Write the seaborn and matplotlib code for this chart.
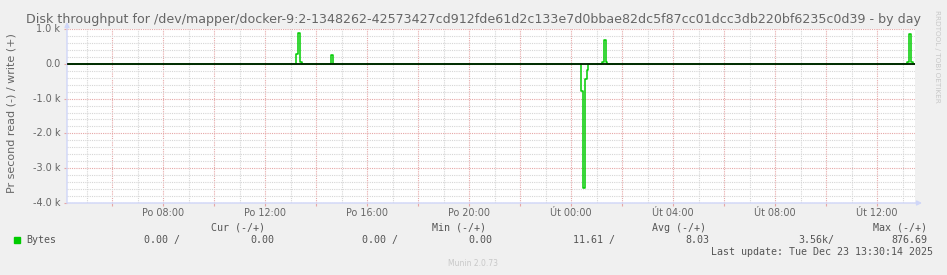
import numpy as np
import pandas as pd
import seaborn as sns
import matplotlib
matplotlib.use("Agg")
import matplotlib.pyplot as plt
from matplotlib.ticker import MultipleLocator

# ---------------- data (hours since Monday 00:00) ----------------
write_times = [4.235, 13.217, 13.300, 13.383, 13.467, 14.600, 14.683,
               25.227, 25.310, 25.390, 25.430, 37.190, 37.267, 37.350, 37.400, 37.490]
write_vals = [0, 280, 876.69, 50, 0, 260, 0,
              50, 690, 50, 0, 50, 860, 50, 0, 0]
read_times = [4.235, 24.380, 24.463, 24.546, 24.630, 24.680, 37.490]
read_vals = [0, 780, 3560, 450, 190, 0, 0]

x_ticks = [8, 12, 16, 20, 24, 28, 32, 36]
x_tick_labels = ["Po 08:00", "Po 12:00", "Po 16:00", "Po 20:00",
                 "Út 00:00", "Út 04:00", "Út 08:00", "Út 12:00"]
y_ticks = [1000, 0, -1000, -2000, -3000, -4000]
y_tick_labels = ["1.0 k", "0.0", "-1.0 k", "-2.0 k", "-3.0 k", "-4.0 k"]

title = ("Disk throughput for /dev/mapper/docker-9:2-1348262-42573427cd912fde61d2c133e7d0bbae82dc5f87cc01dcc3db220bf6235c0d39"
         " - by day")
ylabel = "Pr second read (-) / write (+)"
legend_headers = ["Cur (-/+)", "Min (-/+)", "Avg (-/+)", "Max (-/+)"]
series_name = "Bytes"
read_stats = ["0.00 /", "0.00 /", "11.61 /", "3.56k/"]
write_stats = ["0.00", "0.00", "8.03", "876.69"]
last_update = "Last update: Tue Dec 23 13:30:14 2025"
footer = "Munin 2.0.73"
watermark = "RRDTOOL / TOBI OETIKER"

# ---------------- figure ----------------
W, H = 947, 275
BG = "#F0F0F0"
GREEN = "#00CC00"
FONT = "#666666"
AXISC = "#CFD6F8"

sns.set_style("white")
plt.rcParams["font.family"] = ["DejaVu Sans"]

fig = plt.figure(figsize=(W / 100, H / 100), dpi=100, facecolor=BG)
L, R, T, B = 67, 915, 29, 203
ax = fig.add_axes([L / W, 1 - B / H, (R - L) / W, (B - T) / H])
ax.set_facecolor("white")

x0, x1 = 4.235, 37.49
ax.set_xlim(x0, x1)
ax.set_ylim(-4000, 1000)

# grids
ax.xaxis.set_minor_locator(MultipleLocator(1))
ax.xaxis.set_major_locator(MultipleLocator(2))
ax.yaxis.set_minor_locator(MultipleLocator(200))
ax.yaxis.set_major_locator(MultipleLocator(1000))
ax.grid(which="minor", color="#D6D6D6", linestyle=(0, (1, 1)), linewidth=0.8, zorder=0)
ax.grid(which="major", color="#E6A6A6", linestyle=(0, (1, 1)), linewidth=0.8, zorder=0)
ax.set_axisbelow(True)

# data
wdf = pd.DataFrame({"t": write_times, "v": write_vals})
rdf = pd.DataFrame({"t": read_times, "v": [-v for v in read_vals]})
sns.lineplot(data=wdf, x="t", y="v", ax=ax, color=GREEN, lw=1.1,
             drawstyle="steps-post", zorder=3, estimator=None, sort=False)
sns.lineplot(data=rdf, x="t", y="v", ax=ax, color=GREEN, lw=1.1,
             drawstyle="steps-post", zorder=3, estimator=None, sort=False)
ax.axhline(0, color="black", lw=1.1, zorder=4)

# ticks: short pinkish marks, labels drawn as text
ax.tick_params(which="major", axis="both", length=2, width=0.8, color="#E6A6A6",
               labelbottom=False, labelleft=False, bottom=True, left=True)
ax.tick_params(which="minor", axis="both", length=0)
ax.set_xlabel("")
ax.set_ylabel("")
for s in ax.spines.values():
    s.set_visible(False)

for xv, lab in zip(x_ticks, x_tick_labels):
    ax.text(xv, -0.055, lab, transform=ax.get_xaxis_transform(), ha="center", va="center",
            fontsize=6.9, color=FONT)
for yv, lab in zip(y_ticks, y_tick_labels):
    ax.text(-0.008, yv, lab, transform=ax.get_yaxis_transform(), ha="right", va="center",
            fontsize=7, color=FONT)

# axis lines with arrows
ax.annotate("", xy=(1 + 7 / (R - L), 0), xytext=(0, 0), xycoords="axes fraction",
            arrowprops=dict(arrowstyle="-|>", color=AXISC, lw=1, mutation_scale=7,
                            shrinkA=0, shrinkB=0), annotation_clip=False)
ax.annotate("", xy=(0, 1 + 7 / (B - T)), xytext=(0, 0), xycoords="axes fraction",
            arrowprops=dict(arrowstyle="-|>", color=AXISC, lw=1, mutation_scale=7,
                            shrinkA=0, shrinkB=0), annotation_clip=False)

def fx(px):
    return px / W

def fy(py):
    return 1 - py / H

fig.text(fx(474), fy(19), title, ha="center", va="center", fontsize=9.1, color=FONT)
fig.text(fx(12), fy(113), ylabel, ha="center", va="center", rotation=90,
         fontsize=8, color=FONT)
fig.text(fx(937), fy(10), watermark, ha="center", va="top", rotation=270,
         fontsize=5.2, color="#C8C8C8")

mono = dict(family="DejaVu Sans Mono", fontsize=7.2, color="#555555", va="center")
head_x = [211, 432, 652, 873]
for hx, h in zip(head_x, legend_headers):
    fig.text(fx(hx), fy(228), h, ha="left", **mono)
fig.patches.append(plt.Rectangle((fx(14), fy(243)), 6 / W, 6 / H, transform=fig.transFigure,
                                 color=GREEN, figure=fig))
fig.text(fx(26), fy(240), series_name, ha="left", **mono)
read_x = [180, 398, 615, 834]
write_x = [274, 492, 709, 927]
for rx, s in zip(read_x, read_stats):
    fig.text(fx(rx), fy(240), s, ha="right", **mono)
for wx, s in zip(write_x, write_stats):
    fig.text(fx(wx), fy(240), s, ha="right", **mono)
fig.text(fx(711), fy(252), last_update, ha="left", **mono)
fig.text(fx(473), fy(263), footer, ha="center", va="center", fontsize=5.5, color="#C8C8C8")

fig.savefig("out.png", dpi=100, facecolor=BG)
